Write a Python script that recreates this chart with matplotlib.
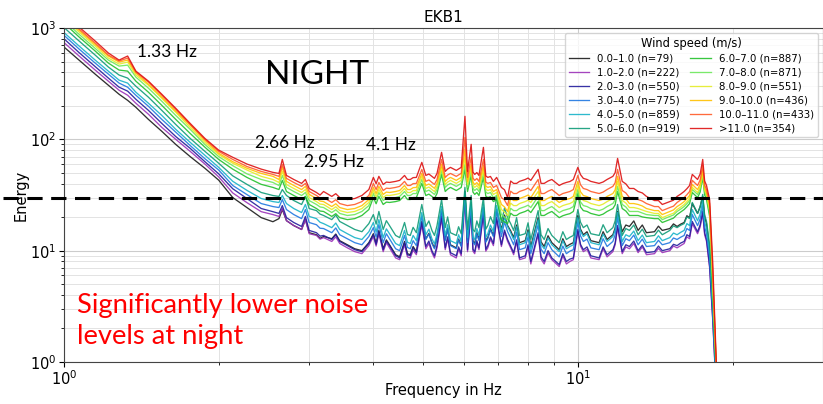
import matplotlib
matplotlib.use("Agg")
import matplotlib.pyplot as plt
from matplotlib.ticker import NullFormatter

# frequency grid of the averaged spectra (Hz)
freq = [1.00, 1.07, 1.15, 1.22, 1.28, 1.33, 1.38, 1.46, 1.55, 1.65, 1.76, 1.88, 2.00, 2.13, 2.27, 2.42, 2.55,
        2.62, 2.66, 2.71, 2.80, 2.90, 2.95, 3.00, 3.10, 3.15,
        3.20, 3.32, 3.38, 3.44, 3.56, 3.68, 3.80, 3.92, 4.00, 4.05, 4.10,
        4.18, 4.24, 4.30, 4.42, 4.50, 4.60, 4.66, 4.72, 4.78, 4.85, 4.97,
        5.06, 5.13, 5.20, 5.26, 5.32, 5.43, 5.52, 5.58, 5.65, 5.80, 5.86, 5.93,
        6.03, 6.10, 6.20, 6.25, 6.30, 6.36, 6.42, 6.55, 6.62, 6.68, 6.76, 6.85, 6.95,
        7.10, 7.20, 7.30, 7.40, 7.50, 7.60, 7.70, 7.90, 8.00, 8.10, 8.37, 8.48, 8.60, 8.75, 8.90, 9.20, 9.35, 9.50, 9.65, 9.80,
        10.0, 10.12, 10.25, 10.42, 10.6, 11.0, 11.2, 11.4, 11.7, 11.82, 11.95,
        12.2, 12.4, 12.6, 12.85, 13.1, 13.35, 13.6, 14.1, 14.35, 14.6, 15.1, 15.35, 15.6, 15.85, 16.1, 16.3, 16.5,
        16.7, 17.1, 17.3, 17.5, 17.65, 17.8, 18.05, 18.3, 18.55, 18.75]

# mean energy per wind speed bin
e_00_01 = [675, 515, 385, 306, 254, 224, 194, 151, 118, 90, 70, 55, 43, 30, 24.4, 19.8, 18.2,
           19.4, 23.4, 18.6, 16.8, 15.5, 19.0, 14.5, 13.9, 12.9,
           13.4, 12.8, 14.1, 12.3, 11.3, 10.4, 10.0, 11.8, 14.2, 11.6, 15.2,
           10.4, 12.5, 11.3, 9.2, 8.8, 12.1, 9.4, 9.2, 10.9, 9.8, 18.3,
           12.8, 14.3, 11.8, 10.6, 13.1, 23.4, 12.6, 15.8, 11.3, 10.6, 12.7, 11.1,
           34.0, 12.1, 26.0, 12.2, 11.6, 14.5, 12.6, 24.4, 12.2, 13.1, 15.7, 13.7, 23.4,
           15.5, 20.9, 16.8, 15.1, 13.1, 17.0, 11.8, 12.3, 15.4, 10.9, 19.8, 12.0, 10.9, 13.6, 11.8, 10.2, 12.8, 10.9, 11.4, 11.8,
           20.7, 15.6, 13.9, 14.8, 12.3, 11.8, 14.8, 12.6, 13.9, 16.0, 22.5,
           14.8, 17.0, 16.5, 18.5, 15.2, 17.0, 14.5, 14.8, 16.6, 15.2, 15.8, 17.4, 16.5, 17.3, 17.9, 20.6, 19.8,
           26.5, 21.6, 24.8, 30.7, 20.1, 17.5, 10.2, 3.26, 0.85, 0.27]
e_01_02 = [740, 560, 419, 333, 276, 249, 211, 168, 128, 100, 78, 60, 46, 33, 27, 22.4, 21.1,
           20.3, 23.9, 18.6, 16.8, 15.5, 19.0, 14.2, 13.7, 12.7,
           13.1, 12.1, 13.3, 11.6, 10.6, 9.8, 9.4, 11.1, 13.4, 11.0, 14.2,
           9.8, 11.8, 10.6, 8.6, 8.3, 11.3, 8.8, 8.6, 10.1, 9.2, 17.1,
           10.4, 11.6, 9.6, 8.6, 10.6, 19.4, 10.2, 12.8, 9.2, 8.6, 10.3, 9.0,
           30.0, 9.8, 22.5, 9.9, 9.4, 11.8, 10.2, 21.1, 9.9, 10.6, 12.7, 11.1, 19.0,
           10.9, 14.7, 12.1, 10.6, 9.2, 12.0, 8.3, 8.6, 10.8, 7.6, 13.9, 8.4, 7.6, 9.5, 8.3, 7.2, 9.0, 7.6, 8.0, 8.3,
           14.8, 11.0, 9.8, 10.3, 8.6, 8.3, 10.4, 8.8, 9.8, 11.3, 16.1,
           9.4, 10.8, 10.4, 11.6, 9.6, 10.8, 9.2, 9.4, 10.5, 9.6, 10.0, 11.0, 10.6, 11.1, 11.6, 13.3, 12.8,
           17.5, 14.2, 16.3, 21.6, 13.9, 12.1, 7.0, 2.39, 0.66, 0.25]
e_02_03 = [800, 601, 450, 355, 294, 271, 229, 182, 139, 106, 83, 63, 49, 36, 29.4, 23.9, 22.4,
           21.6, 25.4, 19.8, 17.9, 16.5, 20.3, 15.2, 14.5, 13.5,
           13.7, 12.6, 13.9, 12.1, 11.1, 10.2, 9.8, 11.6, 13.9, 11.4, 14.8,
           10.2, 12.2, 11.1, 9.0, 8.6, 11.8, 9.2, 9.0, 10.6, 9.6, 17.9,
           10.9, 12.2, 10.0, 9.0, 11.1, 20.3, 10.6, 13.3, 9.6, 9.0, 10.8, 9.4,
           32.0, 10.2, 23.4, 10.3, 9.8, 12.3, 10.6, 22.0, 10.3, 11.1, 13.3, 11.6, 19.8,
           11.3, 15.3, 12.6, 11.0, 9.6, 12.5, 8.6, 9.0, 11.3, 8.0, 14.5, 8.8, 8.0, 10.0, 8.6, 7.5, 9.4, 8.0, 8.4, 8.6,
           15.5, 11.4, 10.2, 10.8, 9.0, 8.6, 10.8, 9.2, 10.2, 11.7, 16.8,
           9.8, 11.3, 10.9, 12.2, 10.0, 11.2, 9.6, 9.8, 11.0, 10.0, 10.4, 11.4, 11.1, 11.7, 12.1, 13.9, 13.4,
           18.3, 14.8, 17.0, 22.5, 14.5, 12.6, 7.3, 2.49, 0.69, 0.25]
e_03_04 = [860, 647, 484, 385, 320, 294, 249, 198, 151, 116, 88, 67, 53, 38.5, 31.9, 26.5, 24.9,
           24.4, 28.8, 23.4, 21.1, 19.4, 23.4, 17.9, 17.1, 15.9,
           15.8, 14.5, 16.0, 13.9, 12.8, 11.8, 11.3, 13.4, 16.1, 13.2, 17.1,
           11.8, 14.2, 12.8, 10.4, 10.0, 13.7, 10.7, 10.4, 12.3, 11.1, 20.3,
           12.6, 14.1, 11.6, 10.4, 12.8, 22.9, 12.3, 15.4, 11.1, 10.4, 12.5, 10.9,
           32.6, 11.8, 25.4, 11.9, 11.3, 14.1, 12.3, 24.4, 11.9, 12.8, 15.4, 13.4, 22.9,
           13.4, 18.1, 14.8, 13.0, 11.3, 14.7, 10.2, 10.6, 13.3, 9.4, 17.1, 10.3, 9.4, 11.8, 10.2, 8.8, 11.0, 9.4, 9.9, 10.2,
           17.9, 13.6, 12.1, 12.7, 10.6, 10.2, 12.8, 10.9, 12.1, 13.9, 19.8,
           11.1, 12.8, 12.3, 13.8, 11.3, 12.7, 10.9, 11.1, 12.4, 11.3, 11.8, 13.0, 12.6, 13.2, 13.7, 15.8, 15.2,
           21.1, 16.8, 19.3, 25.4, 16.3, 14.2, 8.6, 2.94, 0.81, 0.26]
e_04_05 = [910, 689, 515, 410, 340, 320, 265, 211, 164, 123, 94, 72, 56, 42, 34.8, 29.4, 27.6,
           27.1, 31.3, 26.5, 23.9, 22.0, 26.0, 20.3, 19.4, 18.0,
           17.5, 16.1, 17.7, 15.5, 14.2, 13.1, 12.6, 14.8, 17.9, 14.7, 19.0,
           13.1, 15.7, 14.2, 11.6, 11.1, 15.2, 11.9, 11.6, 13.7, 12.3, 22.0,
           13.9, 15.6, 12.8, 11.5, 14.2, 24.9, 13.7, 17.1, 12.3, 11.6, 13.9, 12.1,
           33.3, 13.1, 27.1, 13.2, 12.6, 15.8, 13.7, 26.0, 13.2, 14.2, 17.0, 14.8, 25.4,
           14.8, 20.0, 16.5, 14.5, 12.6, 16.4, 11.3, 11.8, 14.8, 10.4, 19.0, 11.4, 10.4, 13.0, 11.3, 9.8, 12.3, 10.4, 10.9, 11.3,
           19.8, 15.0, 13.4, 14.2, 11.8, 11.3, 14.1, 12.1, 13.4, 15.4, 22.0,
           12.1, 13.9, 13.4, 15.0, 12.3, 13.8, 11.8, 12.1, 13.6, 12.3, 13.1, 14.4, 13.9, 14.6, 15.2, 17.5, 16.8,
           23.4, 18.6, 21.4, 28.2, 18.2, 15.8, 9.8, 3.26, 0.85, 0.27]
e_05_06 = [1010, 764, 571, 446, 378, 355, 300, 239, 182, 136, 102, 78, 61, 47, 39.4, 33.3, 31.3,
           30.7, 35.4, 31.3, 28.2, 26.0, 30.7, 23.9, 22.9, 21.3,
           20.7, 19.0, 20.9, 18.3, 16.8, 15.5, 14.8, 17.5, 21.1, 17.3, 22.5,
           15.5, 18.6, 16.8, 13.7, 13.1, 17.9, 14.0, 13.7, 16.2, 14.5, 26.0,
           16.5, 18.5, 15.2, 13.7, 16.8, 28.8, 16.1, 20.1, 14.5, 13.7, 16.4, 14.2,
           37.0, 15.5, 31.3, 15.5, 14.8, 18.5, 16.1, 30.0, 15.6, 16.8, 20.2, 17.5, 31.3,
           17.9, 24.2, 19.8, 17.5, 15.2, 19.8, 13.7, 14.2, 17.8, 12.6, 22.9, 13.9, 12.6, 15.8, 13.7, 11.8, 14.8, 12.6, 13.2, 13.7,
           23.4, 18.0, 16.1, 17.0, 14.2, 13.7, 17.1, 14.5, 16.1, 18.5, 26.0,
           13.7, 15.8, 15.2, 17.0, 13.9, 15.6, 13.4, 13.7, 15.3, 13.9, 15.2, 16.7, 16.1, 16.9, 17.5, 20.1, 19.4,
           27.1, 21.6, 24.8, 32.0, 21.0, 18.3, 11.3, 3.62, 0.94, 0.28]
e_06_07 = [1110, 830, 621, 484, 419, 410, 333, 265, 202, 151, 113, 85, 66, 54, 45.5, 39.4, 37.0,
           35.4, 42.8, 34.0, 31.3, 28.8, 30.7, 26.0, 23.9, 22.7,
           22.5, 20.3, 21.5, 19.8, 19.0, 19.4, 20.7, 23.4, 30.0, 26.4, 30.7,
           26.0, 27.3, 27.1, 27.6, 28.2, 31.3, 28.8, 28.8, 30.0, 30.0, 40.2,
           31.3, 32.2, 30.7, 29.5, 32.6, 48.4, 34.0, 35.7, 37.0, 34.7, 35.7, 37.0,
           53.7, 34.0, 47.4, 33.6, 32.0, 33.3, 31.3, 45.5, 30.9, 30.0, 30.6, 27.6, 28.8,
           19.0, 18.1, 17.5, 21.7, 20.7, 20.7, 21.6, 22.5, 23.2, 22.0, 27.6, 20.7, 20.7, 21.7, 22.5, 19.8, 20.6, 21.1, 21.5, 22.5,
           32.6, 24.7, 22.9, 22.5, 21.6, 20.7, 21.3, 22.5, 23.9, 25.8, 34.0,
           23.9, 22.7, 20.7, 20.7, 20.7, 20.1, 19.8, 19.4, 19.4, 17.9, 19.0, 19.6, 21.1, 22.2, 23.4, 24.8, 26.5,
           33.3, 30.0, 33.6, 45.5, 31.7, 28.8, 20.3, 4.45, 1.04, 0.30]
e_07_08 = [1170, 877, 656, 515, 455, 464, 362, 288, 220, 164, 123, 90, 70, 58, 49, 43.6, 41.0,
           38.5, 47.4, 37.0, 34.0, 31.3, 33.3, 28.2, 26.0, 24.7,
           24.4, 22.0, 23.3, 21.6, 20.7, 21.1, 22.5, 25.4, 32.6, 28.7, 33.3,
           28.2, 29.6, 29.4, 30.0, 30.7, 34.0, 31.3, 31.3, 32.6, 32.6, 43.6,
           34.0, 35.0, 33.3, 32.0, 35.4, 52.6, 37.0, 38.9, 40.2, 37.8, 38.9, 40.2,
           59.5, 37.0, 51.5, 36.4, 34.7, 36.1, 34.0, 49.4, 33.6, 32.6, 33.3, 30.0, 31.3,
           21.1, 20.0, 19.0, 24.0, 22.9, 22.9, 23.9, 24.9, 25.6, 24.4, 30.7, 22.9, 22.9, 24.0, 24.9, 22.0, 22.9, 23.4, 23.9, 24.9,
           35.4, 27.4, 25.4, 24.9, 23.9, 22.9, 23.6, 24.9, 26.5, 28.6, 37.8,
           26.0, 24.7, 22.5, 22.5, 22.5, 21.8, 21.1, 20.7, 20.7, 19.0, 20.3, 20.9, 22.5, 23.6, 24.9, 26.4, 28.2,
           35.4, 32.0, 35.8, 48.4, 33.8, 30.7, 22.0, 4.9, 1.09, 0.30]
e_08_09 = [1230, 920, 689, 537, 474, 494, 378, 306, 234, 175, 128, 94, 73, 61, 53, 46.5, 43.6,
           41.0, 51.5, 39.3, 36.2, 33.3, 35.4, 30.0, 27.6, 26.2,
           26.0, 23.4, 24.8, 22.9, 22.0, 22.5, 23.9, 27.1, 34.7, 30.5, 35.4,
           30.0, 31.5, 31.3, 32.0, 32.6, 36.2, 33.3, 33.3, 34.6, 34.7, 46.5,
           36.2, 37.3, 35.4, 34.0, 37.8, 56.0, 39.3, 41.3, 42.8, 40.2, 41.4, 42.8,
           68.9, 39.3, 56.0, 38.9, 37.0, 38.5, 36.2, 53.7, 35.7, 34.7, 35.4, 32.0, 33.3,
           23.4, 22.2, 20.7, 26.7, 25.4, 25.4, 26.5, 27.6, 28.4, 27.1, 34.0, 25.4, 25.4, 26.7, 27.6, 24.4, 25.4, 26.0, 26.5, 27.6,
           38.5, 30.5, 28.2, 27.6, 26.5, 25.4, 26.2, 27.6, 29.4, 31.8, 41.9,
           28.2, 26.8, 24.4, 24.4, 23.9, 23.2, 22.5, 21.6, 21.6, 19.8, 21.1, 21.7, 23.4, 24.6, 26.0, 27.6, 29.4,
           37.0, 33.3, 37.3, 50.5, 35.2, 32.0, 23.4, 5.5, 1.16, 0.31]
e_09_10 = [1270, 953, 713, 560, 494, 515, 394, 313, 239, 179, 134, 98, 75, 63, 55, 49.4, 46.5,
           43.6, 56.0, 41.9, 38.5, 35.4, 37.8, 32.0, 29.4, 27.9,
           27.6, 24.9, 26.4, 24.4, 23.4, 23.9, 25.4, 28.8, 37.0, 32.6, 37.8,
           32.0, 33.6, 33.3, 34.0, 34.7, 38.5, 35.4, 35.4, 36.8, 37.0, 49.4,
           38.5, 39.7, 37.8, 36.3, 40.2, 59.5, 41.9, 44.0, 45.5, 42.8, 44.1, 45.5,
           81.3, 41.9, 59.5, 41.3, 39.3, 40.9, 38.5, 58.3, 38.1, 37.0, 37.7, 34.0, 35.4,
           26.0, 24.7, 22.5, 29.6, 28.2, 28.2, 29.4, 30.7, 31.6, 30.0, 37.8, 28.2, 28.2, 29.6, 30.7, 27.1, 28.2, 28.8, 29.4, 30.7,
           41.9, 33.8, 31.3, 30.6, 29.4, 28.2, 29.0, 30.7, 32.6, 35.2, 46.5,
           30.7, 29.2, 26.5, 26.5, 26.0, 25.2, 23.9, 22.9, 22.9, 21.1, 22.5, 23.2, 24.9, 26.1, 27.6, 29.3, 31.3,
           39.3, 35.4, 39.6, 53.7, 36.6, 33.3, 24.9, 6.1, 1.23, 0.32]
e_10_11 = [1310, 980, 733, 571, 505, 537, 402, 327, 249, 186, 136, 100, 78, 66, 57, 51.5, 48.4,
           46.5, 59.5, 44.6, 41.0, 37.8, 40.2, 34.0, 31.3, 29.7,
           30.0, 27.1, 28.7, 26.5, 25.4, 26.0, 27.6, 31.3, 40.2, 35.4, 41.0,
           34.7, 36.4, 36.2, 37.0, 37.8, 41.9, 38.5, 38.5, 40.0, 40.2, 53.7,
           41.9, 43.2, 41.0, 39.4, 43.6, 66.0, 45.5, 47.8, 49.4, 46.5, 47.9, 49.4,
           104, 45.5, 68.9, 44.9, 42.8, 44.5, 41.9, 66.0, 41.4, 40.2, 41.0, 37.0, 38.5,
           30.0, 28.5, 25.4, 34.2, 32.6, 32.6, 34.0, 35.4, 36.5, 34.7, 43.6, 32.6, 32.6, 34.2, 35.4, 31.3, 32.6, 33.3, 34.0, 35.4,
           47.4, 39.1, 36.2, 35.4, 34.0, 32.6, 33.6, 35.4, 37.8, 40.8, 53.7,
           34.7, 33.0, 30.0, 30.0, 28.8, 27.9, 26.5, 24.9, 24.9, 22.9, 24.4, 25.1, 27.1, 28.5, 30.0, 31.8, 34.0,
           42.8, 38.5, 43.1, 58.3, 38.9, 35.4, 26.5, 6.7, 1.28, 0.33]
e_11_up = [1370, 1020, 764, 596, 515, 560, 410, 333, 254, 190, 139, 102, 80, 69, 60, 54, 50.5,
           49.4, 66.0, 47.4, 43.6, 40.2, 43.6, 36.2, 33.3, 31.6,
           34.0, 30.7, 32.5, 30.0, 28.8, 29.4, 31.3, 35.4, 45.5, 40.0, 46.5,
           39.3, 41.3, 41.0, 41.9, 42.8, 47.4, 43.6, 43.6, 45.3, 45.5, 62.1,
           47.4, 48.8, 46.5, 44.6, 49.4, 76.4, 51.5, 54.1, 56.0, 52.6, 54.2, 56.0,
           161, 51.5, 90.2, 50.8, 48.4, 50.3, 47.4, 84.7, 46.9, 45.5, 46.4, 41.9, 45.5,
           37.0, 35.2, 30.0, 42.2, 40.2, 40.2, 41.9, 43.6, 44.9, 42.8, 53.7, 40.2, 40.2, 42.2, 43.6, 38.5, 40.0, 41.0, 41.8, 43.6,
           56.0, 48.2, 44.6, 43.6, 41.9, 40.2, 41.4, 43.6, 46.5, 50.2, 67.4,
           41.9, 39.8, 36.2, 36.2, 34.0, 33.0, 30.7, 28.2, 28.2, 26.0, 27.6, 28.4, 30.7, 32.2, 34.0, 36.0, 38.5,
           48.4, 43.6, 48.8, 66.0, 42.4, 38.5, 28.8, 8.0, 1.42, 0.35]

bins = ["0.0–1.0", "1.0–2.0", "2.0–3.0", "3.0–4.0", "4.0–5.0", "5.0–6.0",
        "6.0–7.0", "7.0–8.0", "8.0–9.0", "9.0–10.0", "10.0–11.0", ">11.0"]
counts = [79, 222, 550, 775, 859, 919, 887, 871, 551, 436, 433, 354]
spectra = [e_00_01, e_01_02, e_02_03, e_03_04, e_04_05, e_05_06,
           e_06_07, e_07_08, e_08_09, e_09_10, e_10_11, e_11_up]
colors = ["#1a1a1a", "#9b30b8", "#231c9c", "#1f77e0", "#17b3c8", "#0f9b78",
          "#22c02a", "#6ce85a", "#e4ec28", "#ffc000", "#ff5a28", "#dd1111"]

threshold = 30

fig = plt.figure(figsize=(8.23, 4.04), dpi=100)
ax = fig.add_axes([64 / 823, 42 / 404, 759 / 823, 334 / 404])

for vals, rng, n, col in zip(spectra, bins, counts, colors):
    ax.plot(freq, vals, color=col, lw=0.95, alpha=0.9, label="{} (n={})".format(rng, n))

ax.set_xscale("log")
ax.set_yscale("log")
ax.set_xlim(1, 30)
ax.set_ylim(1, 1000)
ax.xaxis.set_minor_formatter(NullFormatter())
ax.grid(True, which="major", color="#cccccc", lw=0.8)
ax.grid(True, which="minor", color="#e3e3e3", lw=0.7)
ax.tick_params(labelsize=10.5, pad=2)
for s in ax.spines.values():
    s.set_color("#444444")

ax.set_title("EKB1", fontsize=11, pad=4)
ax.set_xlabel("Frequency in Hz", fontsize=10.5)
ax.set_ylabel("Energy", fontsize=10.5)
ax.xaxis.set_label_coords(0.5, -0.062)
ax.yaxis.set_label_coords(-0.047, 0.5)

leg = ax.legend(title="Wind speed (m/s)", ncol=2, fontsize=7.3, title_fontsize=8.3,
                loc="upper right", borderaxespad=0.5, labelspacing=0.38,
                handlelength=2.0, columnspacing=1.0)

# noise threshold
ax.axhline(threshold, xmin=-0.08, xmax=1, color="black", lw=2.2, ls=(0, (5, 2.8)),
           clip_on=False, zorder=5)

# slide annotations
note = dict(family="Lato", color="black", transform=ax.transAxes, va="center")
ax.text(0.096, 0.928, "1.33 Hz", fontsize=12.5, **note)
ax.text(0.252, 0.656, "2.66 Hz", fontsize=12.5, **note)
ax.text(0.316, 0.599, "2.95 Hz", fontsize=12.5, **note)
ax.text(0.398, 0.650, "4.1 Hz", fontsize=12.5, **note)
ax.text(0.265, 0.859, "NIGHT", fontsize=24, **note)
ax.text(0.017, 0.207, "Significantly lower noise\nlevels at night", fontsize=19.7,
        family="Lato", color="red", transform=ax.transAxes, va="top", linespacing=1.32)

fig.savefig("out.png", dpi=100)
